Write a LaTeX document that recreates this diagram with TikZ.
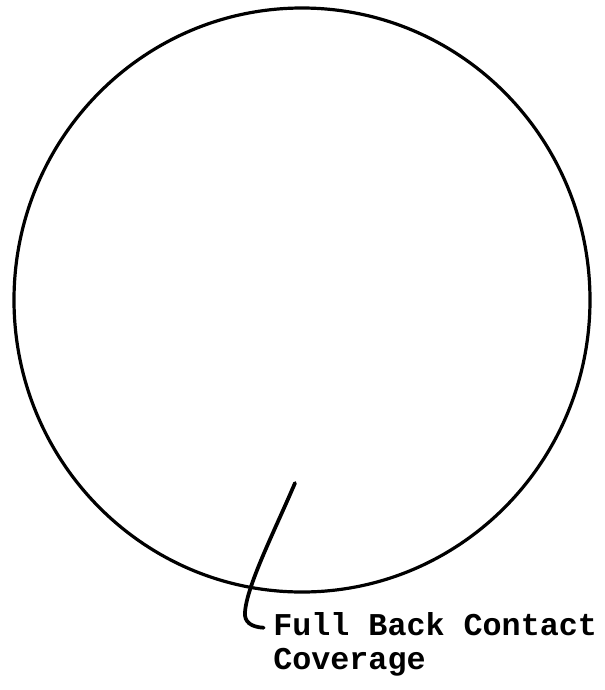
\documentclass[tikz,border=0pt]{standalone}
\usepackage{fontspec}
\setmonofont{Liberation Mono}
\usetikzlibrary{calc}

\begin{document}
\begin{tikzpicture}[x=0.75pt, y=-0.75pt]
    %
    \useasboundingbox (0,0) rectangle (605,690);

    %
    \tikzset{rim/.style={line width=2.4pt}, leader/.style={line width=2.8pt, line cap=round}}

    %
    \draw[rim] (302,300) ellipse [x radius=288, y radius=292];

    %
    \coordinate (tip) at (295,483);
    \node[anchor=base west, align=left, inner sep=0pt, font=\ttfamily\bfseries\fontsize{23.8}{25.5}\selectfont] (label) at (273,669) {Full Back Contact\\Coverage};

    %
    \draw[leader] (tip) .. controls (275,530) and (247,585) .. (245,612)
        .. controls (244,622) and (251,627) .. ([xshift=-7pt, yshift=-12pt]label.north west);

\end{tikzpicture}
\end{document}
